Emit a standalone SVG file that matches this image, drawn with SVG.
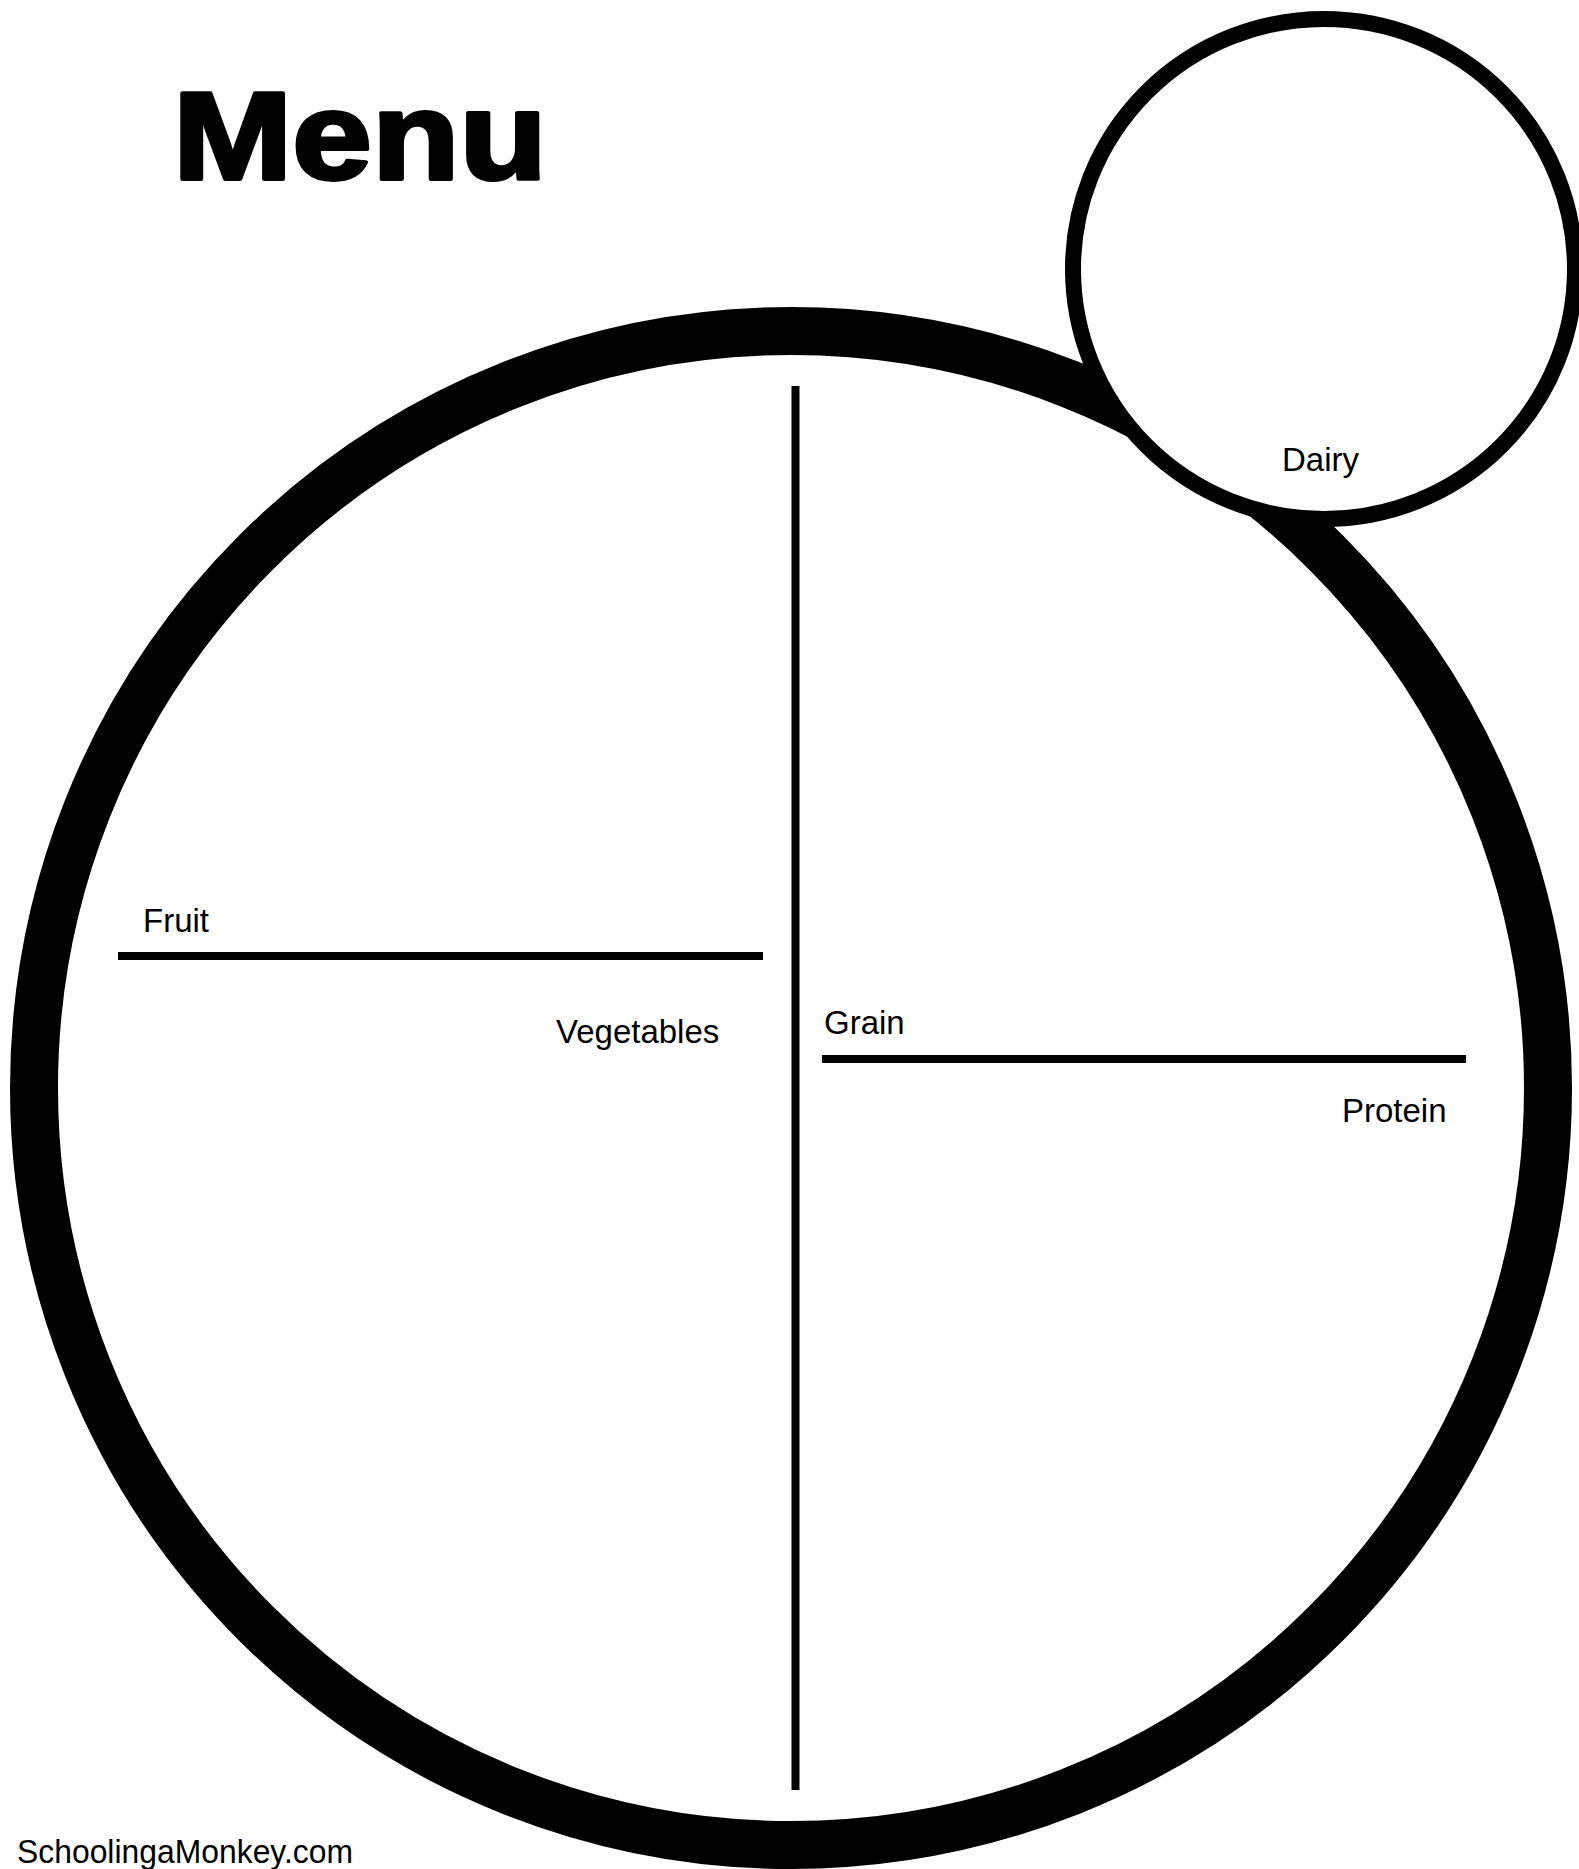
<svg xmlns="http://www.w3.org/2000/svg" width="1579" height="1869" viewBox="0 0 1579 1869">
<style>
.lbl{font-family:"Liberation Sans",Arial,sans-serif;font-size:33px;fill:#000}
.rule{stroke:#000;stroke-width:8;fill:none}
</style>
<rect x="0" y="0" width="1579" height="1869" fill="#fff"/>
<g id="title">
<text x="173" y="179" font-family="Liberation Sans, Arial, sans-serif" font-weight="bold" font-size="125" fill="#000" stroke="#000" stroke-width="4" stroke-linejoin="round" textLength="374" lengthAdjust="spacingAndGlyphs">Menu</text>
</g>
<g id="plate">
<circle cx="791" cy="1088" r="757" fill="none" stroke="#000" stroke-width="48"/>
</g>
<g id="dividers">
<line class="rule" x1="795.5" y1="386" x2="795.5" y2="1790"/>
<line class="rule" x1="118" y1="956" x2="763" y2="956"/>
<line class="rule" x1="822" y1="1059" x2="1466" y2="1059"/>
</g>
<g id="dairy">
<ellipse cx="1324" cy="269" rx="251" ry="250" fill="#fff" stroke="#000" stroke-width="16"/>
<text class="lbl" x="1282" y="471">Dairy</text>
</g>
<g id="fruit"><text class="lbl" x="143" y="932">Fruit</text></g>
<g id="vegetables"><text class="lbl" x="556" y="1043">Vegetables</text></g>
<g id="grain"><text class="lbl" x="824" y="1034">Grain</text></g>
<g id="protein"><text class="lbl" x="1342" y="1122">Protein</text></g>
<g id="footer"><text class="lbl" x="17" y="1863" font-size="32" textLength="336" lengthAdjust="spacingAndGlyphs">SchoolingaMonkey.com</text></g>
</svg>
